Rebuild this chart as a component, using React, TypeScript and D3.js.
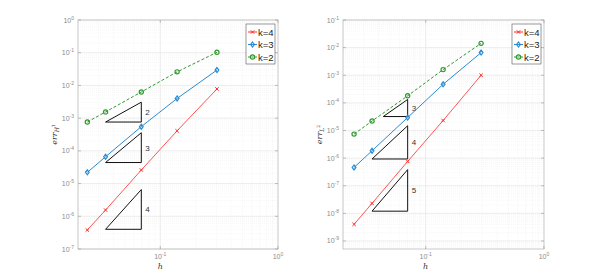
import { useEffect, useRef } from 'react';
import * as d3 from 'd3';

// mesh sizes
const hLeft = [0.024, 0.0343, 0.069, 0.139, 0.303];
const hRight = [0.0248, 0.0352, 0.0704, 0.1404, 0.294];

// H1 errors
const h1K4 = [3.8e-7, 1.55e-6, 2.6e-5, 4.1e-4, 7.8e-3];
const h1K3 = [2.2e-5, 6.6e-5, 5.5e-4, 4.0e-3, 2.95e-2];
const h1K2 = [7.6e-4, 1.55e-3, 6.3e-3, 2.6e-2, 0.103];

// L2 errors
const l2K4 = [4.0e-9, 2.3e-8, 7.6e-7, 2.3e-5, 1.0e-3];
const l2K3 = [4.6e-7, 1.85e-6, 2.95e-5, 4.7e-4, 6.6e-3];
const l2K2 = [7.4e-6, 2.2e-5, 1.8e-4, 1.6e-3, 1.43e-2];

// slope triangles: [h start, h end, base error, slope]
const triLeft: [number, number, number, number][] = [
  [0.0343, 0.069, 7.6e-4, 2],
  [0.0343, 0.069, 4.4e-5, 3],
  [0.0343, 0.069, 4.0e-7, 4],
];
const triRight: [number, number, number, number][] = [
  [0.0438, 0.0704, 3.2e-5, 3],
  [0.0352, 0.0704, 9.3e-7, 4],
  [0.0352, 0.0704, 1.2e-8, 5],
];

const seriesNames = ['k=4', 'k=3', 'k=2'];
const colors = ['#ff2a2a', '#2a8bd4', '#2e9a2e'];
const dashes = ['none', 'none', '3,2'];

interface PanelSpec {
  left: number;
  right: number;
  yDomain: [number, number];
  yExps: number[];
  h: number[];
  series: number[][];
  tris: [number, number, number, number][];
  label: string;
  sub: string;
  sup: string;
  labelX: number;
}

const panels: PanelSpec[] = [
  {
    left: 78, right: 278, yDomain: [1e-7, 1], yExps: [-7, -6, -5, -4, -3, -2, -1, 0],
    h: hLeft, series: [h1K4, h1K3, h1K2], tris: triLeft, label: 'err', sub: 'H', sup: '1', labelX: 57,
  },
  {
    left: 343, right: 544, yDomain: [Math.pow(10, -9.29), 0.1], yExps: [-9, -8, -7, -6, -5, -4, -3, -2, -1],
    h: hRight, series: [l2K4, l2K3, l2K2], tris: triRight, label: 'err', sub: 'L', sup: '2', labelX: 322,
  },
];

export default function App() {
  const svgRef = useRef<SVGSVGElement>(null);

  useEffect(() => {
    if (!svgRef.current) return;
    const svg = d3.select(svgRef.current);
    svg.selectAll('*').remove();
    const top = 20;
    const bottom = 249;
    const tickFont = 'Liberation Sans, Arial, sans-serif';

    panels.forEach((p) => {
      const x = d3.scaleLog().domain([0.02, 1]).range([p.left, p.right]);
      const y = d3.scaleLog().domain(p.yDomain).range([bottom, top]);
      const g = svg.append('g');

      g.append('rect').attr('x', p.left).attr('y', top)
        .attr('width', p.right - p.left).attr('height', bottom - top).attr('fill', '#fff');

      // minor grid
      const xMinor: number[] = [];
      for (let e = -2; e < 0; e++) for (let m = 1; m < 10; m++) {
        const v = m * Math.pow(10, e);
        if (v >= 0.02 && v <= 1) xMinor.push(v);
      }
      const yMinor: number[] = [];
      const [y0, y1] = p.yDomain;
      for (let e = Math.floor(Math.log10(y0)); e < Math.ceil(Math.log10(y1)); e++) for (let m = 1; m < 10; m++) {
        const v = m * Math.pow(10, e);
        if (v >= y0 && v <= y1) yMinor.push(v);
      }
      g.append('g').selectAll('line').data(xMinor).enter().append('line')
        .attr('x1', d => x(d)).attr('x2', d => x(d)).attr('y1', top).attr('y2', bottom)
        .attr('stroke', '#eeeeee').attr('stroke-width', 0.5).attr('stroke-dasharray', '1,1');
      g.append('g').selectAll('line').data(yMinor).enter().append('line')
        .attr('y1', d => y(d)).attr('y2', d => y(d)).attr('x1', p.left).attr('x2', p.right)
        .attr('stroke', '#eeeeee').attr('stroke-width', 0.5).attr('stroke-dasharray', '1,1');
      // major grid
      g.append('g').selectAll('line').data([0.1]).enter().append('line')
        .attr('x1', d => x(d)).attr('x2', d => x(d)).attr('y1', top).attr('y2', bottom)
        .attr('stroke', '#e4e4e4').attr('stroke-width', 0.6);
      g.append('g').selectAll('line').data(p.yExps).enter().append('line')
        .attr('y1', d => y(Math.pow(10, d))).attr('y2', d => y(Math.pow(10, d)))
        .attr('x1', p.left).attr('x2', p.right)
        .attr('stroke', '#e4e4e4').attr('stroke-width', 0.6);

      // box
      g.append('rect').attr('x', p.left).attr('y', top)
        .attr('width', p.right - p.left).attr('height', bottom - top)
        .attr('fill', 'none').attr('stroke', '#bcbcbc').attr('stroke-width', 0.8);

      // ticks inward
      p.yExps.forEach((e) => {
        const yy = y(Math.pow(10, e));
        g.append('line').attr('x1', p.left).attr('x2', p.left + 3).attr('y1', yy).attr('y2', yy)
          .attr('stroke', '#999').attr('stroke-width', 0.6);
        g.append('line').attr('x1', p.right).attr('x2', p.right - 3).attr('y1', yy).attr('y2', yy)
          .attr('stroke', '#999').attr('stroke-width', 0.6);
        const t = g.append('text').attr('x', p.left - 4).attr('y', yy + 2.5)
          .attr('text-anchor', 'end').attr('font-family', tickFont).attr('font-size', 7).attr('fill', '#8c8c8c');
        t.append('tspan').text('10');
        t.append('tspan').attr('dy', -3).attr('font-size', 5).text(String(e));
      });
      [-1, 0].forEach((e) => {
        const xx = x(Math.pow(10, e));
        g.append('line').attr('x1', xx).attr('x2', xx).attr('y1', bottom).attr('y2', bottom - 3)
          .attr('stroke', '#999').attr('stroke-width', 0.6);
        g.append('line').attr('x1', xx).attr('x2', xx).attr('y1', top).attr('y2', top + 3)
          .attr('stroke', '#999').attr('stroke-width', 0.6);
        const t = g.append('text').attr('x', xx).attr('y', bottom + 10)
          .attr('text-anchor', 'middle').attr('font-family', tickFont).attr('font-size', 7).attr('fill', '#8c8c8c');
        t.append('tspan').text('10');
        t.append('tspan').attr('dy', -3).attr('font-size', 5).text(String(e));
      });

      // axis labels
      g.append('text').attr('x', x(0.1)).attr('y', bottom + 20)
        .attr('text-anchor', 'middle').attr('font-family', 'DejaVu Serif, serif').attr('font-style', 'italic')
        .attr('font-size', 8).attr('fill', '#333').text('h');
      const yl = g.append('text').attr('transform', `translate(${p.labelX},${(top + bottom) / 2}) rotate(-90)`)
        .attr('text-anchor', 'middle').attr('font-family', 'DejaVu Serif, serif')
        .attr('font-size', 8).attr('fill', '#333');
      yl.append('tspan').attr('font-style', 'italic').text(p.label);
      yl.append('tspan').attr('dy', 2).attr('font-size', 6).attr('font-style', 'italic').text(p.sub);
      yl.append('tspan').attr('dy', -4).attr('font-size', 4.5).text(p.sup);

      // slope triangles
      p.tris.forEach(([xa, xb, ya, s]) => {
        const yb = ya * Math.pow(xb / xa, s);
        g.append('path')
          .attr('d', `M${x(xa)},${y(ya)}L${x(xb)},${y(ya)}L${x(xb)},${y(yb)}Z`)
          .attr('fill', 'none').attr('stroke', '#111').attr('stroke-width', 1);
        g.append('text').attr('x', x(xb) + 4).attr('y', (y(ya) + y(yb)) / 2 + 3)
          .attr('font-family', tickFont).attr('font-size', 8).attr('fill', '#333').text(String(s));
      });

      // series
      const line = d3.line<number>().x((_, i) => x(p.h[i])).y(d => y(d));
      p.series.forEach((vals, si) => {
        const c = colors[si];
        g.append('path').datum(vals).attr('d', line).attr('fill', 'none')
          .attr('stroke', c).attr('stroke-width', si === 0 ? 0.8 : 1).attr('stroke-dasharray', dashes[si]);
        vals.forEach((v, i) => drawMarker(g, si, x(p.h[i]), y(v), c));
      });

      // legend
      const lx0 = p.right - 32;
      const ly0 = 24;
      g.append('rect').attr('x', lx0).attr('y', ly0).attr('width', 29).attr('height', 40)
        .attr('fill', '#fff').attr('stroke', '#555').attr('stroke-width', 0.6);
      seriesNames.forEach((name, si) => {
        const ly = ly0 + 8 + si * 12.5;
        g.append('line').attr('x1', lx0 + 2).attr('x2', lx0 + 11).attr('y1', ly).attr('y2', ly)
          .attr('stroke', colors[si]).attr('stroke-width', 1).attr('stroke-dasharray', dashes[si] === 'none' ? 'none' : '2,1.5');
        drawMarker(g, si, lx0 + 6.5, ly, colors[si]);
        g.append('text').attr('x', lx0 + 12).attr('y', ly + 3.5).attr('font-family', tickFont)
          .attr('font-size', 9.5).attr('fill', '#222').text(name);
      });
    });
  }, []);

  return (
    <div style={{ margin: -8 }}>
      <svg ref={svgRef} width={600} height={280} style={{ display: 'block', background: '#fff' }} />
    </div>
  );
}

function drawMarker(g: any, si: number, cx: number, cy: number, c: string) {
  if (si === 0) {
    const r = 1.7;
    g.append('path').attr('d', `M${cx - r},${cy - r}L${cx + r},${cy + r}M${cx - r},${cy + r}L${cx + r},${cy - r}`)
      .attr('stroke', c).attr('stroke-width', 1).attr('fill', 'none');
  } else if (si === 1) {
    const r = 2.5;
    g.append('path').attr('d', `M${cx},${cy - r}L${cx + r * 0.75},${cy}L${cx},${cy + r}L${cx - r * 0.75},${cy}Z`)
      .attr('stroke', c).attr('stroke-width', 1.2).attr('fill', 'none');
  } else {
    g.append('circle').attr('cx', cx).attr('cy', cy).attr('r', 2.1)
      .attr('stroke', c).attr('stroke-width', 1.2).attr('fill', 'none');
  }
}
